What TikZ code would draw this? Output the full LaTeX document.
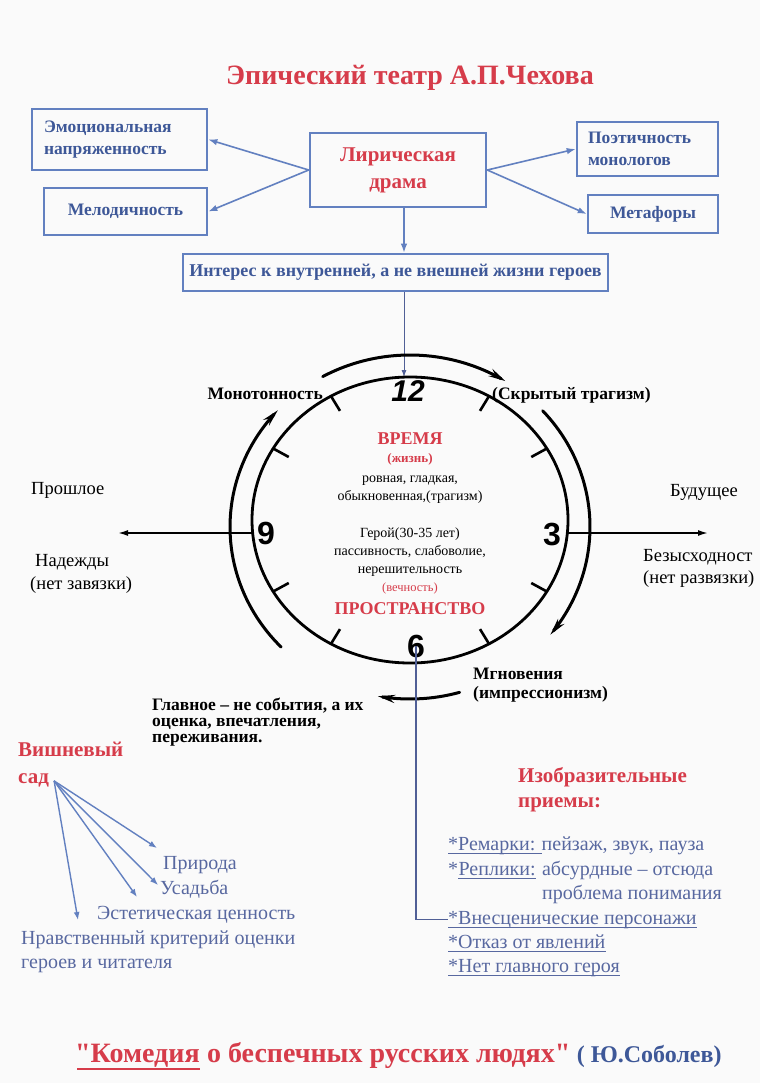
\documentclass[tikz,border=0pt]{standalone}
\usepackage{fontspec}
\setmainfont{Liberation Serif}
\setsansfont{Liberation Sans}
\usetikzlibrary{arrows.meta,calc}
\definecolor{redT}{RGB}{214,60,74}
\definecolor{boxB}{RGB}{98,128,192}
\definecolor{boxT}{RGB}{62,88,152}
\definecolor{listB}{RGB}{88,104,160}
\definecolor{lineB}{RGB}{80,95,150}
\definecolor{paper}{RGB}{250,250,250}
\newcommand{\fsz}[2]{\fontsize{#1}{#2}\selectfont}
\font\qfb="Liberation Serif/B" at 28pt
\begin{document}
\begin{tikzpicture}[x=1pt,y=-1pt,
  bx/.style={draw=boxB, line width=2.6pt, inner sep=0pt, text=boxT, font=\bfseries\fsz{17.5}{22}},
  lbl/.style={inner sep=0pt, font=\bfseries\fsz{17.5}{20}},
  side/.style={inner sep=0pt, font=\fsz{18.5}{22}},
  ctr/.style={inner sep=0pt, font=\fsz{14}{16}, anchor=base},
  ctrred/.style={inner sep=0pt, text=redT, anchor=base},
  lst/.style={inner sep=0pt, font=\fsz{20}{24}, text=listB, anchor=base west},
  uln/.style={draw=listB, line width=1pt},
  redhead/.style={inner sep=0pt, text=redT, font=\bfseries\fsz{21}{25}, anchor=base west},
  blarrow/.style={draw=boxB, line width=1.6pt, -{Latex[length=9pt,width=6.5pt]}},
  cherry/.style={draw=boxB, line width=1.4pt, -{Latex[length=8pt,width=6pt]}},
  arcarrow/.style={line width=3pt, line cap=round, -{Stealth[length=17pt,width=8pt]}},
  axisarrow/.style={line width=1.6pt, -{Latex[length=10pt,width=6pt]}},
  tick/.style={line width=2.6pt},
  num/.style={inner sep=0pt, font=\sffamily\bfseries\fsz{32}{32}}
]
\useasboundingbox (0,0) rectangle (760,1083);
\fill[paper] (0,0) rectangle (760,1083);

% title
\node[inner sep=0pt, text=redT, font=\bfseries\fsz{28}{30}, anchor=base] (title) at (410,85) {Эпический театр А.П.Чехова};

% boxes
\node[bx, minimum width=175pt, minimum height=61pt, text width=151pt, align=left] (emo) at (119.5,139.5) {Эмоциональная\\напряженность};
\node[bx, minimum width=163pt, minimum height=47pt, align=center] (mel) at (125.5,211.5) {Мелодичность};
\node[bx, minimum width=176pt, minimum height=74pt, align=center, text=redT, font=\bfseries\fsz{21}{27}] (lir) at (398,170) {Лирическая\\драма};
\node[bx, minimum width=141pt, minimum height=54pt, text width=119pt, align=left] (poet) at (647.5,149) {Поэтичность\\монологов};
\node[bx, minimum width=130pt, minimum height=38pt, align=center] (met) at (653,214) {Метафоры};
\node[bx, minimum width=425pt, minimum height=37pt, align=center, font=\bfseries\fsz{18}{22}] (int) at (395.5,272.5) {Интерес к внутренней, а не внешней жизни героев};

\draw[blarrow] (lir.west) -- (emo.east);
\draw[blarrow] (lir.west) -- (mel.east);
\draw[blarrow] (lir.east) -- (poet.west);
\draw[blarrow] (lir.east) -- (met.west);

\coordinate (ctop) at (404,377);
\draw[blarrow] (lir.south -| ctop) -- (int.north -| ctop);
\draw[draw=lineB, line width=0.9pt, -{Latex[length=7pt,width=5pt]}] (int.south -| ctop) -- (ctop);

% clock
\coordinate (C) at (410,520);
\draw[line width=2.8pt] (C) ellipse [x radius=158, y radius=143];
\foreach \a in {300,330,30,60,120,150,210,240}
  \draw[tick] ($(C)+(\a:158 and 143)$) -- ($(C)+(\a:140 and 126)$);

\node[num, font=\sffamily\bfseries\itshape\fsz{30}{30}] (n12) at (408,391) {12};
\node[num] (n9) at (266,533) {9};
\node[num] (n3) at (552,535) {3};
\node[num] (n6) at (416,646) {6};

% outer arrows
\draw[arcarrow] plot[domain=241:302, samples=40, variable=\t] ({410+180*cos(\t)},{527+172*sin(\t)});
\draw[arcarrow] plot[domain=-42.5:38.8, samples=50, variable=\t] ({410+180*cos(\t)},{527+172*sin(\t)});
\draw[arcarrow] plot[domain=74:100.3, samples=20, variable=\t] ({410+180*cos(\t)},{527+172*sin(\t)});
\draw[arcarrow] plot[domain=135.7:222.8, samples=50, variable=\t] ({410+180*cos(\t)},{527+172*sin(\t)});

% axis
\coordinate (eL) at (252,533);
\coordinate (axL) at (118,533);
\coordinate (eR) at (568,533);
\coordinate (axR) at (708,533);
\draw[axisarrow] (eL) -- (axL);
\draw[axisarrow] (eR) -- (axR);

% clock center text
\node[ctrred, font=\bfseries\fsz{18}{20}] (vremya) at (410,444) {ВРЕМЯ};
\node[ctrred, font=\bfseries\fsz{13}{15}] (zhizn) at (410,462) {(жизнь)};
\node[ctr] (c1) at (410,482) {ровная, гладкая,};
\node[ctr] (c2) at (410,500) {обыкновенная,(трагизм)};
\node[ctr] (c3) at (410,537) {Герой(30-35 лет)};
\node[ctr] (c4) at (410,555) {пассивность, слабоволие,};
\node[ctr] (c5) at (410,573) {нерешительность};
\node[ctrred, font=\fsz{12.5}{14}] (vech) at (410,591) {(вечность)};
\node[ctrred, font=\bfseries\fsz{18}{20}] (prostr) at (410,614) {ПРОСТРАНСТВО};

% clock labels
\node[lbl, anchor=base east] (mono) at (323,399) {Монотонность};
\node[lbl, anchor=base west] (skr) at (492,399) {(Скрытый трагизм)};
\node[lbl, anchor=base west] (mgn1) at (473,679) {Мгновения};
\node[lbl, anchor=base west] (mgn2) at (473,698) {(импрессионизм)};
\node[lbl, anchor=base west] (gl1) at (152,710) {Главное – не события, а их};
\node[lbl, anchor=base west] (gl2) at (152,726) {оценка, впечатления,};
\node[lbl, anchor=base west] (gl3) at (152,742) {переживания.};

% sides
\node[side, anchor=base west] (past) at (31,494) {Прошлое};
\node[side, anchor=base west] (nad1) at (35,566) {Надежды};
\node[side, anchor=base west] (nad2) at (30,589) {(нет завязки)};
\node[side, anchor=base west] (fut) at (670,496) {Будущее};
\node[side, anchor=base west] (bez1) at (643,561) {Безысходност};
\node[side, anchor=base west] (bez2) at (643,583) {(нет развязки)};

% cherry orchard
\node[redhead] (vish) at (18,756) {Вишневый};
\node[redhead] (sad) at (18,783) {сад};
\coordinate (sadO) at ($(sad.east)+(5,1)$);
\node[lst] (prir) at (163,869) {Природа};
\node[lst] (usad) at (160,894) {Усадьба};
\node[lst] (est) at (97,919) {Эстетическая ценность};
\node[lst] (nrv1) at (21,944) {Нравственный критерий оценки};
\node[lst] (nrv2) at (21,968) {героев и читателя};
\coordinate (tP) at (157,848);
\coordinate (tU) at (158,885);
\coordinate (tE) at (137,897);
\coordinate (tN) at (78,920);
\draw[cherry] (sadO) -- (tP);
\draw[cherry] (sadO) -- (tU);
\draw[cherry] (sadO) -- (tE);
\draw[cherry] (sadO) -- (tN);

% devices
\node[redhead] (izo1) at (518,782) {Изобразительные};
\node[redhead] (izo2) at (518,807) {приемы:};
\node[lst] (rem1) at (448,850) {*Ремарки:};
\node[lst] (rem2) at ($(rem1.base east)+(6,0)$) {пейзаж, звук, пауза};
\node[lst] (star) at (448,875) {*};
\node[lst] (rep) at (star.base east) {Реплики:};
\node[lst] (abs) at ($(rep.base east)+(6,0)$) {абсурдные – отсюда};
\node[lst] (prob) at (abs.base west |- 0,899) {проблема понимания};
\node[lst] (vnes) at (448,924) {*Внесценические персонажи};
\node[lst] (otk) at (448,948) {*Отказ от явлений};
\node[lst] (net) at (448,972) {*Нет главного героя};
\draw[uln] ($(rem1.base west)+(0,3)$) -- ($(rem2.base west)+(0,3)$);
\draw[uln] ($(rep.base west)+(0,3)$) -- ($(rep.base east)+(0,3)$);
\draw[uln] ($(vnes.base west)+(0,3)$) -- ($(vnes.base east)+(0,3)$);
\draw[uln] ($(otk.base west)+(0,3)$) -- ($(otk.base east)+(0,3)$);
\draw[uln] ($(net.base west)+(0,3)$) -- ($(net.base east)+(0,3)$);

\draw[draw=lineB, line width=1.3pt] (n6.center) |- (vnes.west);

% bottom
\node[inner sep=0pt, text=redT, font=\bfseries\fsz{28}{30}, anchor=base west] (kom) at (75,1062) {{\qfb"}Комедия};
\node[inner sep=0pt, text=redT, font=\bfseries\fsz{28}{30}, anchor=base west] (rest) at (kom.base east) {\ о беспечных русских людях{\qfb"}};
\node[inner sep=0pt, text=boxT, font=\bfseries\fsz{24}{28}, anchor=base west] (sob) at ($(rest.base east)+(6,0)$) {( Ю.Соболев)};
\draw[redT, line width=2.5pt] ($(kom.base west)+(2,7)$) -- ($(kom.base east)+(0,7)$);
\end{tikzpicture}
\end{document}
